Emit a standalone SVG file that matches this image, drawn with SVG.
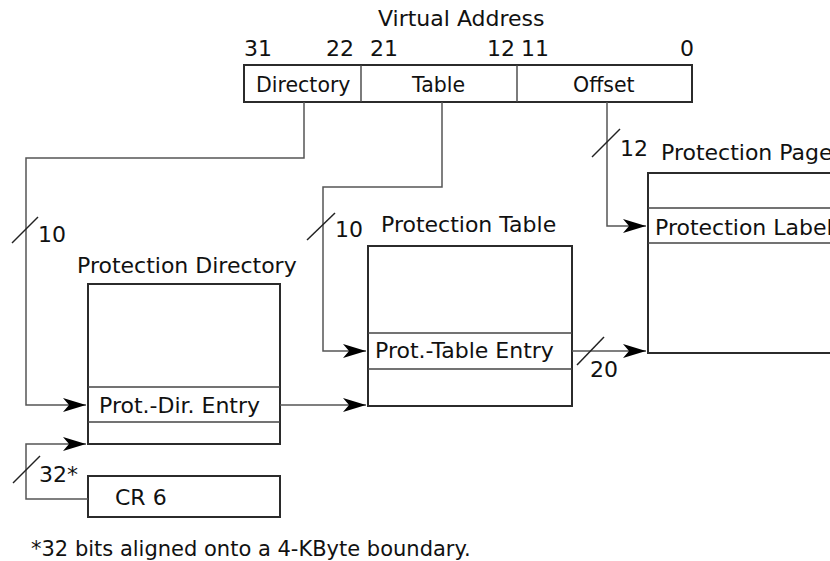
<svg xmlns="http://www.w3.org/2000/svg" width="830" height="561" viewBox="0 0 830 561">
<defs>
<style>
text{font-family:"DejaVu Sans","Verdana",sans-serif;font-size:22px;fill:#111}
.sm{font-size:20.5px}
.fn{font-size:21px}
.box{fill:#fff;stroke:#2b2b2b;stroke-width:2}
.div{stroke:#444;stroke-width:1.4;fill:none}
.con{fill:none;stroke:#555;stroke-width:1.5}
.sl{stroke:#222;stroke-width:1.5}
</style>
<marker id="ah" markerUnits="userSpaceOnUse" markerWidth="26" markerHeight="16" viewBox="-24 -8 26 16" refX="0" refY="0" orient="auto">
<path d="M0,0 L-23,-7 L-17,0 L-23,7 Z" fill="#000"/>
</marker>
</defs>
<rect width="830" height="561" fill="#fff"/>

<g id="virtual-address">
<text x="378" y="26">Virtual Address</text>
<text x="244" y="56">31</text>
<text x="354" y="56" text-anchor="end">22</text>
<text x="370" y="56">21</text>
<text x="515" y="56" text-anchor="end">12</text>
<text x="521" y="56">11</text>
<text x="694" y="56" text-anchor="end">0</text>
<rect class="box" x="244" y="65" width="448" height="37"/>
<line class="div" x1="361" y1="65" x2="361" y2="102"/>
<line class="div" x1="517" y1="65" x2="517" y2="102"/>
<text class="sm" x="256" y="92">Directory</text>
<text class="sm" x="412" y="92">Table</text>
<text class="sm" x="573" y="92">Offset</text>
</g>

<g id="protection-directory">
<text x="77" y="273">Protection Directory</text>
<rect class="box" x="88" y="284" width="192" height="160"/>
<line class="div" x1="88" y1="387" x2="280" y2="387"/>
<line class="div" x1="88" y1="422" x2="280" y2="422"/>
<text x="99" y="413">Prot.-Dir. Entry</text>
</g>

<g id="cr6">
<rect class="box" x="88" y="476" width="192" height="41"/>
<text x="115" y="505">CR 6</text>
</g>

<g id="protection-table">
<text x="381" y="232">Protection Table</text>
<rect class="box" x="368" y="246" width="204" height="160"/>
<line class="div" x1="368" y1="333" x2="572" y2="333"/>
<line class="div" x1="368" y1="369" x2="572" y2="369"/>
<text x="375" y="358">Prot.-Table Entry</text>
</g>

<g id="protection-page">
<text x="661" y="160">Protection Page</text>
<rect class="box" x="648" y="173" width="220" height="180"/>
<line class="div" x1="648" y1="208" x2="830" y2="208"/>
<line class="div" x1="648" y1="243" x2="830" y2="243"/>
<text x="655" y="235">Protection Label</text>
</g>

<g id="connectors">
<path class="con" d="M304,102 V158 H26 V405 H86" marker-end="url(#ah)"/>
<path class="con" d="M442,102 V187 H323 V351 H366" marker-end="url(#ah)"/>
<path class="con" d="M607,102 V226 H646" marker-end="url(#ah)"/>
<path class="con" d="M280,405 H366" marker-end="url(#ah)"/>
<path class="con" d="M572,351 H646" marker-end="url(#ah)"/>
<path class="con" d="M88,499 H26 V444 H86" marker-end="url(#ah)"/>
<line class="sl" x1="12" y1="243" x2="38" y2="217"/>
<line class="sl" x1="307" y1="240" x2="335" y2="213"/>
<line class="sl" x1="592" y1="157" x2="620" y2="129"/>
<line class="sl" x1="13" y1="483" x2="40" y2="456"/>
<line class="sl" x1="577" y1="365" x2="604" y2="337"/>
<text x="38" y="242">10</text>
<text x="335" y="237">10</text>
<text x="620" y="156">12</text>
<text x="590" y="377">20</text>
<text x="39" y="482">32*</text>
</g>

<text class="fn" x="31" y="556">*32 bits aligned onto a 4-KByte boundary.</text>
</svg>
